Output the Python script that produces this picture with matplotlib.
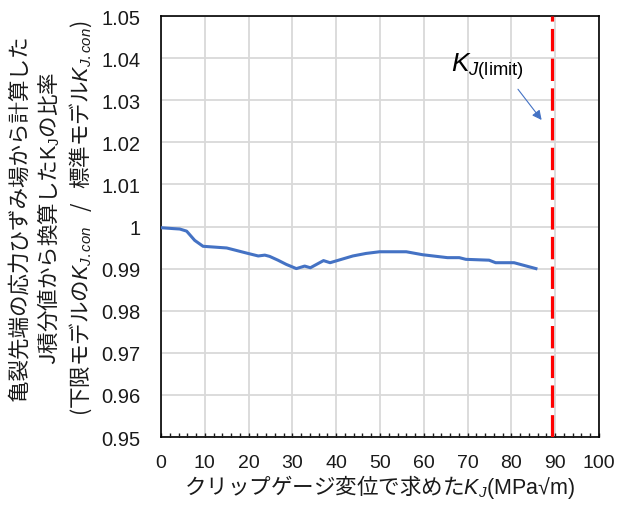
import matplotlib
matplotlib.use("Agg")
import matplotlib.pyplot as plt
from matplotlib.ticker import MultipleLocator, FixedLocator

plt.rcParams['font.family'] = ['Liberation Sans', 'Noto Sans CJK JP', 'DejaVu Sans']
plt.rcParams['mathtext.fontset'] = 'custom'
plt.rcParams['mathtext.rm'] = 'Liberation Sans'
plt.rcParams['mathtext.it'] = 'Liberation Sans:italic'
plt.rcParams['mathtext.bf'] = 'Liberation Sans:bold'
plt.rcParams['mathtext.sf'] = 'Liberation Sans'

# Data
kj_clip = [0.15, 2.8, 4.3, 5.85, 7.7, 9.6, 15.0, 19.5, 22.2, 23.7, 24.8, 26.7, 28.6,
           30.9, 32.8, 34.1, 37.1, 38.6, 43.8, 46.8, 49.9, 56.0, 59.7, 65.4, 68.1,
           69.6, 74.9, 76.4, 80.6, 85.6]
ratio = [0.9997, 0.9995, 0.9994, 0.9989, 0.9967, 0.9953, 0.9949, 0.9937, 0.9930,
         0.9932, 0.9929, 0.9920, 0.9910, 0.9900, 0.9906, 0.9902, 0.9919, 0.9914,
         0.9930, 0.9936, 0.9940, 0.9940, 0.9933, 0.9926, 0.9926, 0.9922, 0.9920,
         0.9914, 0.9914, 0.9900]
kj_limit = 89.3

x_ticks = [0, 10, 20, 30, 40, 50, 60, 70, 80, 90, 100]
y_ticks = [0.95, 0.96, 0.97, 0.98, 0.99, 1.00, 1.01, 1.02, 1.03, 1.04, 1.05]
y_tick_labels = ['0.95', '0.96', '0.97', '0.98', '0.99', '1', '1.01', '1.02', '1.03', '1.04', '1.05']

txt = '#1a1a1a'
cjk = 'Noto Sans CJK JP'

fig = plt.figure(figsize=(6.19, 5.10), dpi=100)
ax = fig.add_axes([161/619, 1-438/510, (599-161)/619, (438-17)/510])

ax.plot(kj_clip, ratio, color='#4472c4', lw=2.2, solid_joinstyle='round', zorder=3)
ax.axvline(kj_limit, color='#ff0000', lw=2.3, dashes=(7, 2.3), zorder=4)

ax.set_xlim(0, 100)
ax.set_ylim(0.95, 1.05)
ax.xaxis.set_major_locator(FixedLocator(x_ticks))
ax.yaxis.set_major_locator(FixedLocator(y_ticks))
ax.set_yticklabels(y_tick_labels)
ax.xaxis.set_minor_locator(MultipleLocator(2))
ax.grid(True, which='major', color='#d9d9d9', lw=1.3, zorder=0)
ax.set_axisbelow(True)

ax.tick_params(axis='x', which='major', direction='in', length=3, width=1, pad=12,
               labelsize=14, colors=txt)
ax.tick_params(axis='x', which='minor', direction='in', length=3, width=1, colors=txt)
ax.tick_params(axis='y', which='major', length=0, pad=15, labelsize=14.5, colors=txt)
for s in ax.spines.values():
    s.set_color('black')
    s.set_linewidth(1.2)

ax.annotate('', xy=(86.9, 1.0253), xytext=(81.5, 1.0326),
            arrowprops=dict(arrowstyle='-|>', color='#4472c4', lw=0.8,
                            mutation_scale=14, shrinkA=0, shrinkB=0), zorder=5)
ax.text(66.3, 1.0369, r'$K_{J\mathsf{(limit)}}$', fontsize=19, color='black',
        ha='left', va='baseline', zorder=5)

fig.text(380/619, 1-487/510, 'クリップゲージ変位で求めた$K_J\\mathsf{(MPa√m)}$',
         fontsize=15.5, color=txt, ha='center', va='center', family=cjk)

ylab = ('亀裂先端の応力ひずみ場から計算した\n'
        'J積分値から換算した$\\mathsf{K}_\\mathsf{J}$の比率\n'
        '(下限モデルの$K_{J.con}$   /   標準モデル$K_{J.con}$)')
fig.text(51/619, 1-218/510, ylab, rotation=90, fontsize=15.5, color=txt,
         ha='center', va='center', multialignment='center', linespacing=1.25,
         family=cjk)

fig.savefig('out.png', dpi=100, facecolor='white')
